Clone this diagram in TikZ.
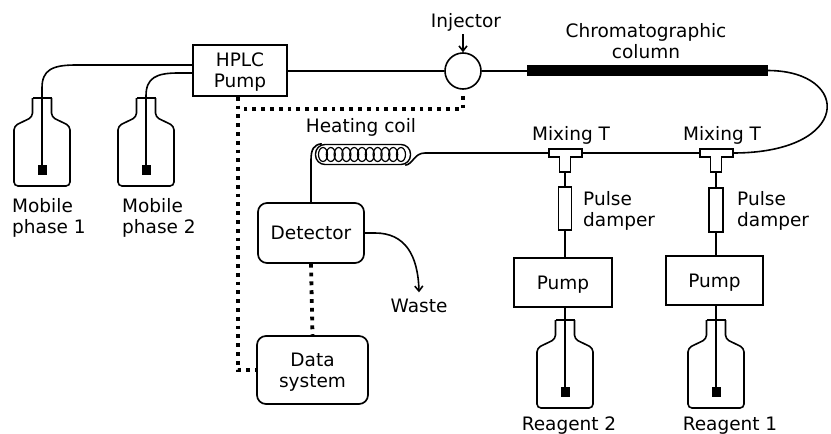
\documentclass[tikz,border=0pt]{standalone}
\usepackage{fontspec}
\setmainfont{DejaVu Sans}
\usetikzlibrary{arrows.meta}

% bottle with suction tube end: #1 centre x, #2 neck top y, #3 name of the filter block
\newcommand\flask[3]{%
  \draw[pipe, rounded corners=4pt] (#1+9.5,#2) -- (#1+9.5,#2+19) -- (#1+28,#2+28)
     -- (#1+28,#2+88) -- (#1-28,#2+88) -- (#1-28,#2+28) -- (#1-9.5,#2+19) -- (#1-9.5,#2);
  \draw[pipe] (#1-9.5,#2) -- (#1+9.5,#2);
  \node[fill=black, minimum width=9pt, minimum height=10pt] (#3) at (#1,#2+72) {};
}
% mixing tee on the reaction line: #1 centre x, #2 name prefix
\newcommand\mixT[2]{%
  \draw[boxline] (#1-16,149) -- (#1+17,149) -- (#1+17,157) -- (#1+5.5,157) -- (#1+5.5,172)
     -- (#1-5.5,172) -- (#1-5.5,157) -- (#1-16,157) -- cycle;
  \coordinate (#2w) at (#1-16,153);
  \coordinate (#2e) at (#1+17,153);
  \coordinate (#2s) at (#1,172);
}

\begin{document}
\begin{tikzpicture}[x=1pt, y=-1pt,
  every node/.style={font=\fontsize{18.5}{21}\selectfont, inner sep=0pt},
  pipe/.style={line width=1.6pt},
  boxline/.style={draw, line width=1.7pt, fill=white},
  sigline/.style={line width=3.8pt, dash pattern=on 3.8pt off 5pt},
  barb/.style={-{Straight Barb[length=5pt,width=8pt]}}
]
\fill[white] (0,0) rectangle (831,434);
\useasboundingbox (0,0) rectangle (831,434);

% ---- solvent delivery ----
\node[boxline, minimum width=94pt, minimum height=51pt, align=center, text depth=0pt] (hplc) at (240,70.5) {HPLC\\Pump};
\flask{42}{98}{mp1}
\flask{146}{98}{mp2}
\draw[pipe] (mp1.north) -- (42,88) .. controls (42,70) and (52,65) .. (76,65) -- (hplc.west |- 0,65);
\draw[pipe] (mp2.north) -- (146,96) .. controls (146,78) and (156,73) .. (178,73) -- (hplc.west |- 0,73);
\node[anchor=north west, align=left] (mp1lab) at (12,198) {Mobile\\phase 1};
\node[anchor=north west, align=left] (mp2lab) at (122,198) {Mobile\\phase 2};

% ---- injector and column ----
\node[draw, circle, line width=1.6pt, minimum size=36pt] (inj) at (463,71) {};
\node[anchor=base] (injlab) at (466,27) {Injector};
\draw[pipe, barb] ([yshift=-3pt]injlab.south -| inj.north) -- (inj.north);
\node[fill=black, minimum width=241pt, minimum height=11pt] (col) at (647.5,70.5) {};
\node[anchor=north, align=center] (collab) at (646,23) {Chromatographic\\column};
\draw[pipe] (hplc.east |- inj.west) -- (inj.west);
\draw[pipe] (inj.east) -- (col.west |- inj.east);

% ---- post-column reaction line ----
\mixT{565}{mtB}
\mixT{716}{mtA}
\node[anchor=base] (mtBlab) at (571,140) {Mixing T};
\node[anchor=base] (mtAlab) at (722,140) {Mixing T};
\draw[pipe] (col.east) .. controls (852,71) and (852,153) .. (mtAe);
\draw[pipe] (mtAw) -- (mtBe);

% heating coil
\node[draw, rounded corners=9.5pt, line width=1.4pt, minimum width=95pt, minimum height=20pt] (coil) at (363,154.5) {};
\foreach \i in {0,...,10}
  \draw[line width=1.2pt] (323+7.8*\i,154.5) ellipse [x radius=4.5pt, y radius=7pt];
\node[anchor=base] (coillab) at (361,132) {Heating coil};
\draw[pipe] (mtBw) -- (425,153) .. controls (414,153) and (413,164.5) .. ([xshift=-6pt]coil.south east);

% reagent delivery
\node[boxline, minimum width=13pt, minimum height=43pt] (dampB) at (565,208.5) {};
\node[boxline, minimum width=14pt, minimum height=44pt] (dampA) at (716,210) {};
\node[anchor=north west, align=left] (dampBlab) at (583,191) {Pulse\\damper};
\node[anchor=north west, align=left] (dampAlab) at (737,191) {Pulse\\damper};
\node[boxline, minimum width=98pt, minimum height=49pt, text depth=0pt] (pumpB) at (563,282.5) {Pump};
\node[boxline, minimum width=97pt, minimum height=49pt, text depth=0pt] (pumpA) at (714.5,280.5) {Pump};
\flask{565}{320}{rgB}
\flask{716}{320}{rgA}
\node[anchor=base] (rgBlab) at (569,430) {Reagent 2};
\node[anchor=base] (rgAlab) at (730,430) {Reagent 1};
\draw[pipe] (mtBs) -- (dampB.north);
\draw[pipe] (mtAs) -- (dampA.north);
\draw[pipe] (dampB.south) -- (dampB.south |- pumpB.north);
\draw[pipe] (dampA.south) -- (dampA.south |- pumpA.north);
\draw[pipe] (pumpB.south -| rgB.north) -- (rgB.north);
\draw[pipe] (pumpA.south -| rgA.north) -- (rgA.north);

% ---- detection ----
\node[boxline, rounded corners=9pt, minimum width=106pt, minimum height=60pt, text depth=0pt] (det) at (311,233) {Detector};
\node[boxline, rounded corners=9pt, minimum width=111pt, minimum height=68pt, align=center, text depth=0pt] (data) at (312.5,370) {Data\\system};
\draw[pipe] (det.north) -- (311,160) .. controls (311,149) and (314,144.5) .. ([xshift=7pt]coil.north west);
\node[anchor=base] (waste) at (419,312) {Waste};
\draw[pipe, barb] (det.east) -- (375,233) .. controls (405,233) and (418,255) .. ([yshift=6pt]waste.north);

% ---- signal lines ----
\draw[sigline] (det.south) -- (data.north);
\draw[sigline] ([xshift=-2pt]hplc.south) |- (data.west);
\draw[sigline] ([yshift=-6pt]inj.south) |- (242,109);
\end{tikzpicture}
\end{document}
